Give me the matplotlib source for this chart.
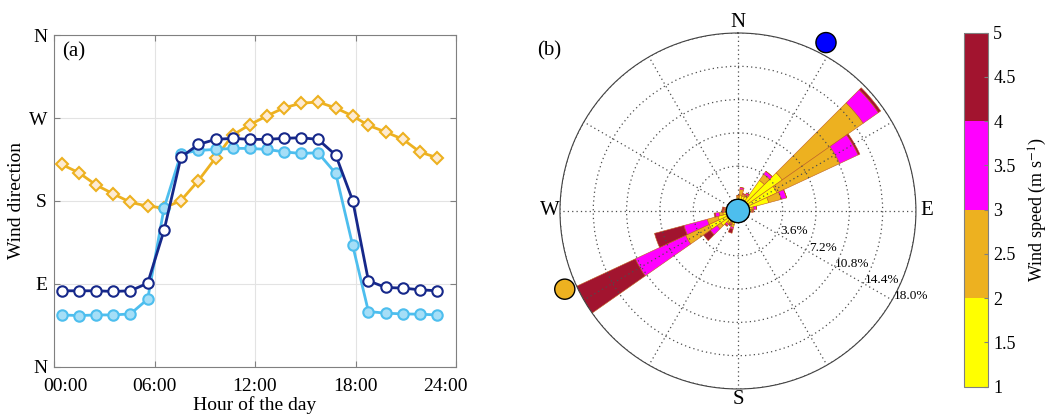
import numpy as np
import matplotlib.pyplot as plt
from matplotlib.colors import ListedColormap, BoundaryNorm
from matplotlib.cm import ScalarMappable
from matplotlib.patches import Circle
from matplotlib.transforms import ScaledTranslation

plt.rcParams['font.family'] = ['Liberation Serif', 'DejaVu Serif']
plt.rcParams['mathtext.fontset'] = 'stix'

# (a) hourly mean wind direction, degrees (0 = N, 90 = E, ...)
hours = [0.46, 1.49, 2.53, 3.54, 4.56, 5.59, 6.57, 7.58, 8.62, 9.65, 10.67, 11.68,
         12.70, 13.71, 14.73, 15.76, 16.82, 17.83, 18.77, 19.80, 20.84, 21.85, 22.89]
dir_orange = [219.6, 210.5, 197.1, 187.6, 178.5, 174.2, 172.4, 180.4, 202.1, 226.8, 251.5, 262.7,
              272.2, 280.9, 286.0, 287.4, 280.9, 272.2, 262.0, 254.8, 246.8, 233.0, 226.8]
dir_navy = [82.4, 82.4, 82.4, 81.7, 82.4, 90.7, 148.1, 227.5, 241.3, 246.8, 247.9, 246.8,
            246.8, 247.9, 248.6, 246.8, 229.7, 180.4, 93.3, 86.0, 85.3, 83.5, 82.4]
dir_light = [56.2, 55.5, 56.2, 56.2, 57.3, 73.3, 172.4, 231.2, 234.8, 235.9, 237.0, 237.0,
             235.9, 233.3, 231.5, 232.3, 209.8, 131.7, 59.9, 58.1, 57.3, 57.0, 56.2]
ytick_labels = ['N', 'E', 'S', 'W', 'N']
xtick_labels = ['00:00', '06:00', '12:00', '18:00', '24:00']

# (b) wind rose: frequency (%) per 10-degree sector and speed class
sectors = [0, 10, 20, 30, 40, 50, 60, 70, 80, 90, 200, 210, 220, 230, 240, 250, 260, 270, 280]
freq_1_2 = [0.2, 0.5, 0.4, 0.5, 2.8, 4.6, 3.4, 2.2, 0.3, 0.2, 0.3, 0.2, 0.3, 1.0, 2.2, 1.0, 0.4, 0.2, 0.1]
freq_2_3 = [0.2, 0.6, 0.2, 0.2, 0.8, 10.7, 7.5, 1.4, 0.2, 0.1, 0.3, 0.1, 0.2, 0.5, 2.8, 1.2, 0.4, 0.1, 0.1]
freq_3_4 = [0.0, 0.2, 0.1, 0.2, 0.4, 2.0, 2.2, 0.6, 0.3, 0.1, 0.2, 0.1, 0.2, 0.9, 6.0, 2.6, 0.4, 0.1, 0.1]
freq_4_5 = [0.0, 0.0, 0.0, 0.0, 0.0, 0.3, 0.2, 0.0, 0.0, 0.0, 0.45, 0.1, 0.1, 0.9, 7.0, 3.3, 0.15, 0.1, 0.17]
ring_ticks = [3.6, 7.2, 10.8, 14.4, 18.0]
mark_dirs = [27.6, 245.7]
mark_r = [19.3, 19.3]

speed_colors = ['#FFFF00', '#EDB120', '#FF00FF', '#A2142F']

fig = plt.figure(figsize=(10.51, 4.15), dpi=100)

# ---- panel (a)
axa = fig.add_axes([0.0514, 0.1164, 0.3825, 0.799])
axa.plot(hours, dir_orange, '-D', color='#EDB120', mfc='#FDEBD3', mec='#EDB120',
         ms=6.5, mew=1.5, lw=2, zorder=3)
axa.plot(hours, dir_light, '-o', color='#4DBEEE', mfc='#A5DEF7', mec='#4DBEEE',
         ms=7.5, mew=1.5, lw=2, zorder=4)
axa.plot(hours, dir_navy, '-o', color='#16288A', mfc='white', mec='#16288A',
         ms=7.5, mew=1.5, lw=2, zorder=5)
axa.set_xlim(0, 24)
axa.set_ylim(0, 360)
axa.set_xticks([0, 6, 12, 18, 24], xtick_labels)
axa.set_yticks([0, 90, 180, 270, 360], ytick_labels)
axa.grid(True, color='#E3E3E3', lw=0.8)
axa.set_axisbelow(True)
for s in axa.spines.values():
    s.set_color('0.5')
    s.set_linewidth(0.8)
axa.tick_params(direction='in', top=True, right=True, length=4, color='0.5',
                labelsize=14)
axa.tick_params(axis='x', pad=8)
axa.tick_params(axis='y', pad=5)
# end labels sit a little inside the axis limits, as in the original
xl = axa.get_xticklabels()
xl[0].set_transform(xl[0].get_transform() + ScaledTranslation(0.11, 0, fig.dpi_scale_trans))
xl[-1].set_transform(xl[-1].get_transform() + ScaledTranslation(-0.11, 0, fig.dpi_scale_trans))
axa.set_xlabel('Hour of the day', fontsize=14, labelpad=1)
axa.set_ylabel('Wind direction', fontsize=14, labelpad=3)
axa.text(0.02, 0.948, '(a)', transform=axa.transAxes, fontsize=15, ha='left', va='center')

# ---- panel (b)
axb = fig.add_axes([0.5328, 0.0627, 0.3387, 0.8578], projection='polar')
axb.set_theta_zero_location('N')
axb.set_theta_direction(-1)
axb.set_rlim(0, 18)
axb.set_rorigin(-18 * 11.5 / 166.5)

theta = np.deg2rad(sectors)
bottom = np.zeros(len(sectors))
for f, c in zip([freq_1_2, freq_2_3, freq_3_4, freq_4_5], speed_colors):
    f = np.array(f)
    axb.bar(theta, f, width=np.deg2rad(10), bottom=bottom, color=c,
            edgecolor='#C0601E', linewidth=0.4, zorder=1)
    bottom += f

axb.set_axisbelow(False)
axb.set_thetagrids(range(0, 360, 30),
                   ['N', '', '', 'E', '', '', 'S', '', '', 'W', '', ''], fontsize=15)
axb.set_rgrids(ring_ticks, [''] * len(ring_ticks))
axb.grid(True, linestyle=(0, (1, 2.5)), color='0.3', linewidth=0.9)
axb.tick_params(axis='x', pad=-3)
axb.spines['polar'].set_color('0.25')
axb.spines['polar'].set_linewidth(0.8)
axb.spines['inner'].set_visible(False)

label_angles = [110, 113.3, 114.9, 115.5, 116.2]
for a, t in zip(label_angles, ring_ticks):
    axb.text(np.deg2rad(a), t + 1.6, f'{t:.1f}%', fontsize=9.5, ha='center',
             va='center', clip_on=False, zorder=6)

axb.add_patch(Circle((0.5, 0.5), 11.7 / 356, transform=axb.transAxes,
                     fc='#4DBEEE', ec='k', lw=1, zorder=5, clip_on=False))
axb.scatter(np.deg2rad(mark_dirs), mark_r, s=210, c=['#0000FF', '#EDB120'],
            edgecolors='k', linewidths=1, clip_on=False, zorder=6)
fig.text(0.511, 0.877, '(b)', fontsize=15, ha='left', va='center')

# ---- colorbar
cax = fig.add_axes([0.9172, 0.0682, 0.0225, 0.853])
cmap = ListedColormap(speed_colors)
norm = BoundaryNorm([1, 2, 3, 4, 5], cmap.N)
cb = fig.colorbar(ScalarMappable(norm=norm, cmap=cmap), cax=cax,
                  ticks=[1, 1.5, 2, 2.5, 3, 3.5, 4, 4.5, 5])
cb.ax.set_yticklabels(['1', '1.5', '2', '2.5', '3', '3.5', '4', '4.5', '5'])
cb.ax.tick_params(direction='in', length=3, color='0.5', labelsize=13, pad=4)
cb.outline.set_edgecolor('0.5')
cb.outline.set_linewidth(0.8)
cb.set_label('Wind speed (m s$^{-1}$)', fontsize=13, labelpad=8)

fig.savefig('out.png', dpi=100)
